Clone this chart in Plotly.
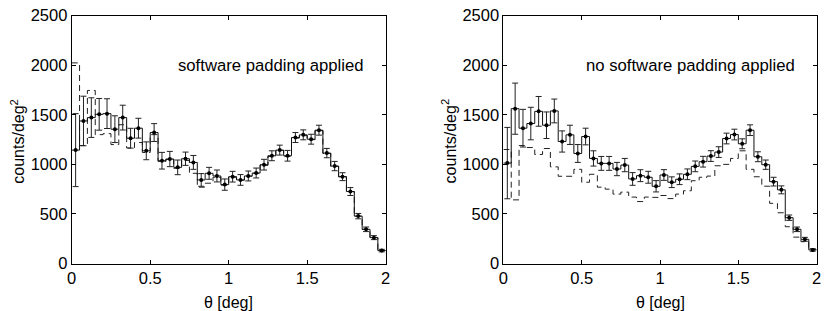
import numpy as np
import plotly.graph_objects as go

bin_width = 0.05
n_bins = 40

left_solid = [1144, 1438, 1472, 1505, 1512, 1355, 1472, 1264, 1365, 1137,
              1321, 1037, 1054, 970, 1057, 1020, 843, 910, 883, 796,
              876, 843, 883, 913, 997, 1087, 1144, 1087, 1271, 1298,
              1254, 1345, 1114, 983, 876, 726, 478, 345, 261, 130]
left_err = [368, 250, 200, 160, 150, 135, 125, 100, 100, 90,
            90, 84, 77, 74, 67, 70, 64, 60, 60, 57,
            54, 54, 50, 50, 54, 50, 50, 54, 50, 50,
            50, 50, 47, 47, 40, 40, 27, 23, 20, 13]
left_dashed = [2024, 1190, 1746, 1300, 1310, 1200, 1400, 1165, 1221, 1120,
               1300, 1030, 1050, 960, 1040, 910, 770, 810, 870, 790,
               870, 840, 880, 910, 990, 1080, 1140, 1080, 1265, 1290,
               1250, 1340, 1110, 980, 875, 725, 478, 345, 261, 130]

right_solid = [1013, 1562, 1365, 1412, 1535, 1395, 1539, 1231, 1298, 1110,
               1281, 1060, 1010, 1010, 953, 993, 853, 886, 870, 779,
               893, 820, 850, 900, 980, 1027, 1084, 1124, 1261, 1301,
               1208, 1345, 1077, 997, 826, 743, 462, 345, 244, 137]
right_err = [360, 258, 190, 164, 150, 134, 120, 107, 97, 90,
             84, 77, 70, 70, 67, 67, 64, 60, 60, 57,
             54, 54, 54, 54, 54, 54, 54, 54, 54, 54,
             50, 54, 50, 47, 44, 40, 27, 23, 20, 13]
right_dashed = [1150, 642, 1190, 1170, 1100, 1160, 975, 880, 880, 950,
                820, 900, 770, 750, 700, 720, 670, 625, 670, 667,
                686, 655, 700, 734, 835, 870, 882, 986, 1000, 1060,
                1137, 950, 875, 780, 607, 512, 371, 266, 220, 140]

titles = ["software padding applied", "no software padding applied"]
x_ticks = [0, 0.5, 1, 1.5, 2]
x_tick_text = ["0", "0.5", "1", "1.5", "2"]
y_ticks = [0, 500, 1000, 1500, 2000, 2500]
y_tick_text = ["0", "500", "1000", "1500", "2000", "2500"]

edges = np.arange(n_bins + 1) * bin_width
centers = edges[:-1] + bin_width / 2

FONT = "Liberation Sans, Arial, sans-serif"
fig = go.Figure()

panels = [(left_solid, left_err, left_dashed, "x", "y"),
          (right_solid, right_err, right_dashed, "x2", "y2")]

for solid, err, dashed, xa, ya in panels:
    xs = list(edges)
    ys_s = list(solid) + [solid[-1]]
    ys_d = list(dashed) + [dashed[-1]]
    fig.add_trace(go.Scatter(x=xs, y=ys_d, mode="lines", line_shape="hv",
                             line=dict(color="#222", width=1, dash="6px,4px"),
                             xaxis=xa, yaxis=ya, showlegend=False, hoverinfo="skip"))
    fig.add_trace(go.Scatter(x=xs, y=ys_s, mode="lines", line_shape="hv",
                             line=dict(color="#111", width=1),
                             xaxis=xa, yaxis=ya, showlegend=False, hoverinfo="skip"))
    fig.add_trace(go.Scatter(x=centers, y=solid, mode="markers",
                             marker=dict(color="black", size=4),
                             error_y=dict(type="data", array=err, visible=True,
                                          color="#222", thickness=1, width=3),
                             xaxis=xa, yaxis=ya, showlegend=False, hoverinfo="skip"))

H = 311.0
W = 830.0
ydom = [(H - 263.5) / H, (H - 15.7) / H]
xdom1 = [71.7 / W, 385.7 / W]
xdom2 = [503.4 / W, 816.6 / W]

axis_common = dict(showline=True, linecolor="black", linewidth=1, mirror="ticks",
                   ticks="inside", ticklen=4, tickcolor="black", showgrid=False,
                   zeroline=False, automargin=False,
                   tickfont=dict(family=FONT, size=16.5, color="black"))

fig.update_layout(
    width=830, height=311,
    margin=dict(l=0, r=0, t=0, b=0, pad=0, autoexpand=False),
    paper_bgcolor="white", plot_bgcolor="white",
    xaxis=dict(domain=xdom1, range=[0, 2], tickvals=x_ticks, ticktext=x_tick_text,
               anchor="y", **axis_common),
    yaxis=dict(domain=ydom, range=[0, 2500], tickvals=y_ticks, ticktext=y_tick_text,
               anchor="x", **axis_common),
    xaxis2=dict(domain=xdom2, range=[0, 2], tickvals=x_ticks, ticktext=x_tick_text,
                anchor="y2", **axis_common),
    yaxis2=dict(domain=ydom, range=[0, 2500], tickvals=y_ticks, ticktext=y_tick_text,
                anchor="x2", **axis_common),
)

ann = []
for i, (xr, yr, xd) in enumerate([("x", "y", xdom1), ("x2", "y2", xdom2)]):
    ann.append(dict(x=1.877, y=2000, xref=xr, yref=yr, text=titles[i], showarrow=False,
                    xanchor="right", yanchor="middle",
                    font=dict(family=FONT, size=16.7, color="black")))
    ann.append(dict(x=(xd[0] + xd[1]) / 2, y=(H - 302) / H, xref="paper", yref="paper",
                    text="θ [deg]", showarrow=False, xanchor="center", yanchor="middle",
                    font=dict(family=FONT, size=16, color="black")))
    ann.append(dict(x=(xd[0] * W - 54) / W, y=(H - 141) / H, xref="paper", yref="paper",
                    text="counts/deg<sup>2</sup>", showarrow=False, textangle=-90,
                    xanchor="center", yanchor="middle",
                    font=dict(family=FONT, size=16, color="black")))
fig.update_layout(annotations=ann)

fig.write_html("out.html", config={"displayModeBar": False, "staticPlot": True},
               post_script="document.body.style.margin='0';document.body.style.padding='0';document.body.style.overflow='hidden';")
